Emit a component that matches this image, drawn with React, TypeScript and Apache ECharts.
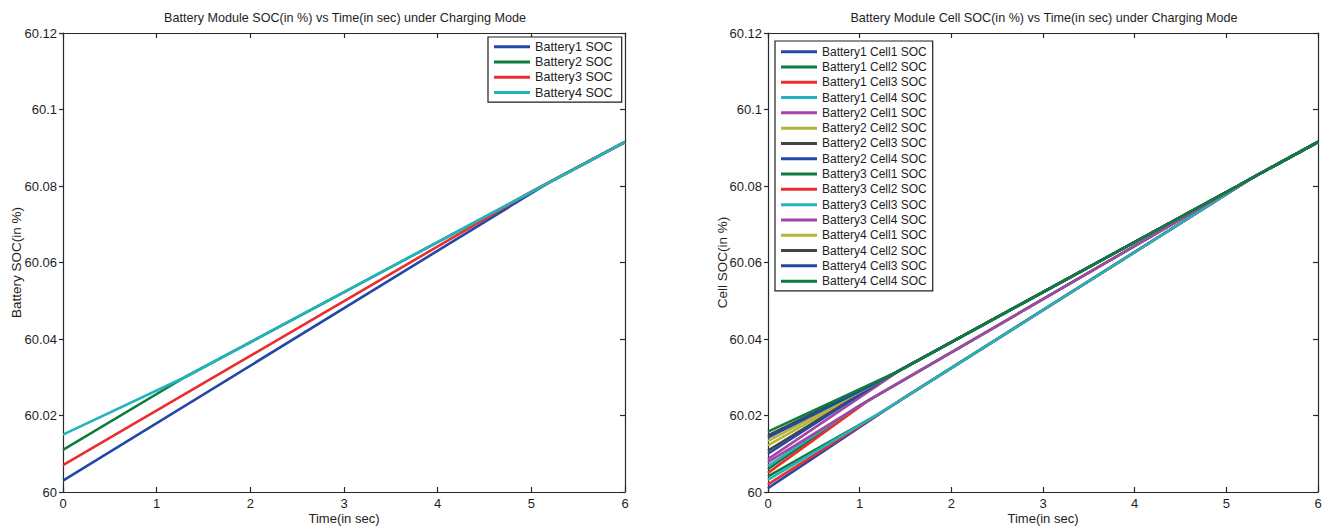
import React, { useEffect, useRef } from "react";
import * as echarts from "echarts";

// ---- Data ----
const TITLE_LEFT = "Battery Module SOC(in %) vs Time(in sec) under Charging Mode";
const TITLE_RIGHT = "Battery Module Cell SOC(in %) vs Time(in sec) under Charging Mode";
const Y_NAME_LEFT = "Battery SOC(in %)";
const Y_NAME_RIGHT = "Cell SOC(in %)";
const X_NAME = "Time(in sec)";

const X_MIN = 0;
const X_MAX = 6;
const X_STEP = 1;
const Y_MIN = 60;
const Y_MAX = 60.12;
const Y_STEP = 0.02;

// MATLAB-like default colour order
const PALETTE = ["#2348a6", "#0e7d3c", "#ec2d2d", "#22b4be", "#a245a5", "#b4b437", "#404548"];

const batteryNames = ["Battery1 SOC", "Battery2 SOC", "Battery3 SOC", "Battery4 SOC"];
const battery1 = [[0, 60.003], [5.2, 60.0811], [6, 60.0915]];
const battery2 = [[0, 60.011], [1.3, 60.03], [6, 60.0915]];
const battery3 = [[0, 60.007], [5.0, 60.0785], [6, 60.0915]];
const battery4 = [[0, 60.015], [1.3, 60.03], [6, 60.0915]];
const batteryData = [battery1, battery2, battery3, battery4];

const cellNames = [
  "Battery1 Cell1 SOC", "Battery1 Cell2 SOC", "Battery1 Cell3 SOC", "Battery1 Cell4 SOC",
  "Battery2 Cell1 SOC", "Battery2 Cell2 SOC", "Battery2 Cell3 SOC", "Battery2 Cell4 SOC",
  "Battery3 Cell1 SOC", "Battery3 Cell2 SOC", "Battery3 Cell3 SOC", "Battery3 Cell4 SOC",
  "Battery4 Cell1 SOC", "Battery4 Cell2 SOC", "Battery4 Cell3 SOC", "Battery4 Cell4 SOC",
];
const b1c1 = [[0, 60.001], [1.5, 60.0249], [5.3, 60.0824], [6, 60.0915]];
const b1c2 = [[0, 60.0041], [1.2, 60.0203], [5.3, 60.0824], [6, 60.0915]];
const b1c3 = [[0, 60.002], [1.4, 60.0233], [5.3, 60.0824], [6, 60.0915]];
const b1c4 = [[0, 60.0032], [1.3, 60.0218], [5.3, 60.0824], [6, 60.0915]];
const b2c1 = [[0, 60.0086], [1.45, 60.032], [6, 60.0915]];
const b2c2 = [[0, 60.0122], [1.4, 60.0313], [6, 60.0915]];
const b2c3 = [[0, 60.0108], [1.35, 60.0307], [6, 60.0915]];
const b2c4 = [[0, 60.01], [1.3, 60.03], [6, 60.0915]];
const b3c1 = [[0, 60.006], [1.05, 60.0233], [5.25, 60.0817], [6, 60.0915]];
const b3c2 = [[0, 60.005], [1.1, 60.024], [5.25, 60.0817], [6, 60.0915]];
const b3c3 = [[0, 60.0068], [0.95, 60.0219], [5.25, 60.0817], [6, 60.0915]];
const b3c4 = [[0, 60.0078], [1.0, 60.0226], [5.25, 60.0817], [6, 60.0915]];
const b4c1 = [[0, 60.0133], [1.25, 60.0293], [6, 60.0915]];
const b4c2 = [[0, 60.0148], [1.35, 60.0307], [6, 60.0915]];
const b4c3 = [[0, 60.0142], [1.3, 60.03], [6, 60.0915]];
const b4c4 = [[0, 60.0158], [1.4, 60.0313], [6, 60.0915]];
const cellData = [b1c1, b1c2, b1c3, b1c4, b2c1, b2c2, b2c3, b2c4, b3c1, b3c2, b3c3, b3c4, b4c1, b4c2, b4c3, b4c4];

// ---- Styling ----
const FONT = "'Liberation Sans', Arial, Helvetica, sans-serif";
const INK = "#1e1e1e";
const AXIS = "#262a2c";

const GRID_L = { left: 63, top: 33, width: 562, height: 459 };
const GRID_R = { left: 768, top: 33, width: 550, height: 459 };

function fmtY(v: number) {
  return String(Number(v.toFixed(2)));
}

function axesFor(gridIndex: number, yName: string, yNameGap: number) {
  const lineStyle = { color: AXIS, width: 1.2 };
  const tick = { show: true, inside: true, length: 5, lineStyle: { color: AXIS, width: 1.2 } };
  const xBottom = {
    type: "value", gridIndex, position: "bottom", min: X_MIN, max: X_MAX, interval: X_STEP,
    axisLine: { show: true, onZero: false, lineStyle },
    axisTick: tick,
    splitLine: { show: false },
    axisLabel: { show: true, margin: 5, color: INK, fontSize: 13, fontFamily: FONT },
    name: X_NAME, nameLocation: "middle", nameGap: 20, nameMoveOverlap: false,
    nameTextStyle: { color: INK, fontSize: 13, fontFamily: FONT, verticalAlign: "top" },
  };
  const xTop = {
    type: "value", gridIndex, position: "top", min: X_MIN, max: X_MAX, interval: X_STEP,
    axisLine: { show: true, onZero: false, lineStyle },
    axisTick: tick,
    splitLine: { show: false },
    axisLabel: { show: false },
  };
  const yLeft = {
    type: "value", gridIndex, position: "left", min: Y_MIN, max: Y_MAX, interval: Y_STEP,
    axisLine: { show: true, onZero: false, lineStyle },
    axisTick: { show: true, inside: false, length: 4, lineStyle: { color: AXIS, width: 1.2 } },
    splitLine: { show: false },
    axisLabel: { show: true, margin: 6, color: INK, fontSize: 13, fontFamily: FONT, formatter: fmtY },
    name: yName, nameLocation: "middle", nameGap: yNameGap, nameRotate: 90, nameMoveOverlap: false,
    nameTextStyle: { color: INK, fontSize: 13.5, fontFamily: FONT },
  };
  const yRight = {
    type: "value", gridIndex, position: "right", min: Y_MIN, max: Y_MAX, interval: Y_STEP,
    axisLine: { show: true, onZero: false, lineStyle },
    axisTick: tick,
    splitLine: { show: false },
    axisLabel: { show: false },
  };
  return { x: [xBottom, xTop], y: [yLeft, yRight] };
}

export default function App() {
  const ref = useRef<HTMLDivElement>(null);

  useEffect(() => {
    if (!ref.current) return;
    const chart = echarts.init(ref.current, null, { renderer: "svg" });

    const a0 = axesFor(0, Y_NAME_LEFT, 40);
    const a1 = axesFor(1, Y_NAME_RIGHT, 39);

    const lineSeries = (name: string, data: number[][], color: string, xi: number, yi: number) => ({
      type: "line",
      name,
      data,
      xAxisIndex: xi,
      yAxisIndex: yi,
      showSymbol: false,
      symbol: "none",
      lineStyle: { width: 2.6, color },
      itemStyle: { color },
      emphasis: { disabled: true },
      silent: true,
    });

    const series: any[] = [];
    batteryData.forEach((d, i) => series.push(lineSeries(batteryNames[i], d, PALETTE[i % PALETTE.length], 0, 0)));
    cellData.forEach((d, i) => series.push(lineSeries(cellNames[i], d, PALETTE[i % PALETTE.length], 2, 2)));

    const legendCommon = {
      orient: "vertical",
      icon: "rect",
      itemWidth: 36,
      itemHeight: 3,
      itemGap: 0,
      borderColor: "#1e1e1e",
      borderWidth: 1.2,
      backgroundColor: "#ffffff",
      selectedMode: false,
    };

    const option: any = {
      animation: false,
      backgroundColor: "#ffffff",
      title: [
        {
          text: TITLE_LEFT, left: 345, top: 11, textAlign: "center", padding: 0,
          textStyle: { color: INK, fontSize: 12.6, fontWeight: "normal", fontFamily: FONT },
        },
        {
          text: TITLE_RIGHT, left: 1044, top: 11, textAlign: "center", padding: 0,
          textStyle: { color: INK, fontSize: 12.6, fontWeight: "normal", fontFamily: FONT },
        },
      ],
      legend: [
        {
          ...legendCommon, data: batteryNames, left: 488, top: 37, padding: [2, 9, 2, 6],
          textStyle: { color: INK, fontSize: 12.6, fontFamily: FONT, lineHeight: 15.3 },
        },
        {
          ...legendCommon, data: cellNames, left: 775, top: 41, padding: [3, 6, 2, 6],
          textStyle: { color: INK, fontSize: 12, fontFamily: FONT, lineHeight: 15.3 },
        },
      ],
      grid: [
        { ...GRID_L, containLabel: false, outerBoundsMode: "none" },
        { ...GRID_R, containLabel: false, outerBoundsMode: "none" },
      ],
      xAxis: [...a0.x, ...a1.x],
      yAxis: [...a0.y, ...a1.y],
      series,
    };

    chart.setOption(option);
    return () => chart.dispose();
  }, []);

  return (
    <div
      ref={ref}
      style={{ position: "fixed", left: 0, top: 0, width: 1333, height: 526, background: "#fff" }}
    />
  );
}
